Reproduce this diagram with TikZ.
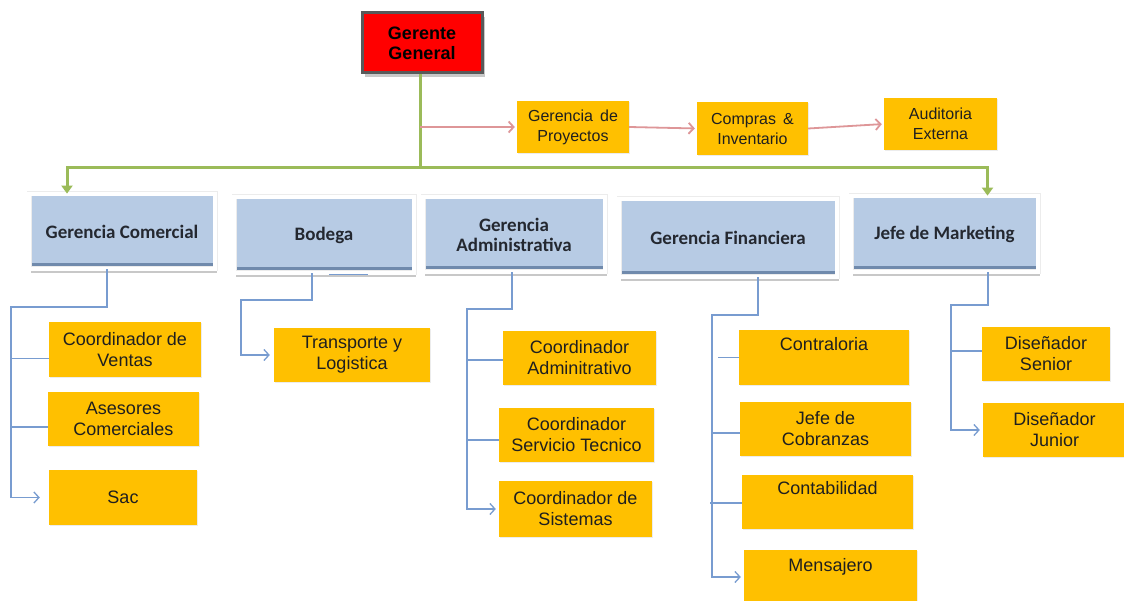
\documentclass[tikz,border=0pt]{standalone}
\usepackage{fontspec}
\setmainfont{Liberation Sans}
\newfontfamily\hdrfont{Carlito}
\usetikzlibrary{arrows.meta,shadows}

\definecolor{boxorange}{RGB}{255,192,0}
\definecolor{hdrfill}{RGB}{183,203,228}
\definecolor{hdredge}{RGB}{112,138,172}
\definecolor{hdrtext}{RGB}{36,40,48}
\definecolor{linkblue}{RGB}{120,156,208}
\definecolor{linkgreen}{RGB}{155,187,89}
\definecolor{linkred}{RGB}{222,150,152}
\definecolor{ceoborder}{RGB}{89,89,89}
\definecolor{shadowgray}{RGB}{200,200,200}
\definecolor{haze}{RGB}{236,236,236}

\begin{document}
\begin{tikzpicture}[x=1pt,y=-1pt,
  ceo/.style={fill=red, draw=ceoborder, line width=3pt,
    drop shadow={shadow xshift=3pt, shadow yshift=-4pt, fill=shadowgray, opacity=1},
    font=\bfseries\fontsize{18}{20}\selectfont, align=center, inner sep=0pt},
  hdr/.style={fill=hdrfill, draw=haze, line width=0.8pt, double=white, double distance=3.4pt,
    drop shadow={shadow xshift=1.5pt, shadow yshift=-4pt, fill=shadowgray, opacity=1},
    path picture={\fill[hdredge] (path picture bounding box.south west)
      rectangle ([yshift=6pt]path picture bounding box.south east);},
    text=hdrtext, font=\hdrfont\bfseries\fontsize{19}{20}\selectfont,
    align=center, inner sep=0pt},
  obox/.style={fill=boxorange,
    drop shadow={shadow xshift=1pt, shadow yshift=-1pt, fill=haze, opacity=1},
    text=black!88, font=\fontsize{18}{21}\selectfont,
    align=center, inner sep=0pt},
  tbox/.style={obox, font=\fontsize{16}{20}\selectfont},
  bl/.style={draw=linkblue, line width=1.3pt},
  blarrow/.style={bl, -{Straight Barb[length=5pt,width=11pt,line width=1.3pt]}},
  gr/.style={draw=linkgreen, line width=3pt},
  grarrow/.style={gr, -{Triangle[length=8pt,width=11pt]}},
  rd/.style={draw=linkred, line width=1.8pt,
    -{Straight Barb[length=5pt,width=11pt,line width=1.8pt]}, shorten >=2pt}
]
\useasboundingbox (0,0) rectangle (1124,601);
\fill[white] (0,0) rectangle (1124,601);

% top of the chart
\node[ceo, minimum width=120, minimum height=60] (gg) at (422,43) {Gerente\\General};

\node[tbox, minimum width=112, minimum height=52] (gp) at (573,127) {Gerencia\, de\\Proyectos};
\node[tbox, minimum width=111, minimum height=53] (ci) at (752.5,128.5) {Compras\, \&\\Inventario};
\node[tbox, minimum width=113, minimum height=52] (ae) at (940.5,124) {Auditoria\\Externa};

% department headers
\node[hdr, minimum width=186, minimum height=75] (gc)  at (122,231.5) {Gerencia Comercial};
\node[hdr, minimum width=180, minimum height=76] (bod) at (324,235) {Bodega};
\node[hdr, minimum width=182, minimum height=75] (ga)  at (514,234.5) {Gerencia\\Administrativa};
\node[hdr, minimum width=218, minimum height=78] (gf)  at (728,238) {Gerencia Financiera};
\node[hdr, minimum width=187, minimum height=76] (jm)  at (944.5,234) {Jefe de Marketing};

% staff units
\node[obox, minimum width=152, minimum height=55] (cv)  at (125,349.5) {Coordinador de\\Ventas};
\node[obox, minimum width=151, minimum height=54] (ac)  at (123.5,419) {Asesores\\Comerciales};
\node[obox, minimum width=148, minimum height=55] (sac) at (123,497.5) {Sac};

\node[obox, minimum width=156, minimum height=54] (tl)  at (352,355) {Transporte y\\Logistica};

\node[obox, minimum width=153, minimum height=54] (ca)  at (579.5,358) {Coordinador\\Adminitrativo};
\node[obox, minimum width=155, minimum height=54] (cst) at (576.5,435) {Coordinador\\Servicio Tecnico};
\node[obox, minimum width=153, minimum height=56] (cs)  at (575.5,509) {Coordinador de\\Sistemas};

\node[obox, minimum width=170, minimum height=55] (con)  at (824,357.5) {Contraloria\\\strut};
\node[obox, minimum width=171, minimum height=54] (jc)   at (825.5,429) {Jefe de\\Cobranzas};
\node[obox, minimum width=171, minimum height=54] (cont) at (827.5,502) {Contabilidad\\\strut};
\node[obox, minimum width=173, minimum height=60, text depth=30pt, text height=13pt] (men) at (830.5,580) {Mensajero};

\node[obox, minimum width=128, minimum height=54] (ds) at (1046,354) {Diseñador\\Senior};
\node[obox, minimum width=143, minimum height=54] (dj) at (1054.5,430) {Diseñador\\Junior};

% main trunk
\coordinate (bus) at (420,168);
\draw[gr] ([xshift=-2pt]gg.south) -- (bus);
\draw[grarrow] (bus) -| ([xshift=-55pt]gc.north);
\draw[grarrow] (bus) -| ([xshift=43pt]jm.north);

% staff line
\draw[rd] (bus |- gp.west) -- (gp.west);
\draw[rd] (gp.east) -- (ci.west);
\draw[rd] (ci.east) -- (ae.west);

% Gerencia Comercial
\draw[blarrow] ([xshift=-15pt]gc.south) |- (11,307) |- ([xshift=-9pt]sac.west);
\draw[bl] ([yshift=-9pt]cv.west) -- ++(-38,0);
\draw[bl] ([yshift=-8pt]ac.west) -- ++(-37,0);

% Bodega
\draw[blarrow] ([xshift=-12pt]bod.south) |- (241,300) |- ([xshift=-4pt]tl.west);
\draw[bl] ([xshift=5pt,yshift=-1pt]bod.south) -- ++(39,0);

% Gerencia Administrativa
\draw[blarrow] ([xshift=-2pt]ga.south) |- (467,309) |- ([xshift=-3pt]cs.west);
\draw[bl] ([yshift=-2pt]ca.west) -- ++(-36,0);
\draw[bl] ([yshift=-5pt]cst.west) -- ++(-32,0);

% Gerencia Financiera
\draw[blarrow] ([xshift=30pt]gf.south) |- (712,315) |- ([xshift=-3pt,yshift=3pt]men.west);
\draw[bl] (con.west) -- ++(-21,0);
\draw[bl] ([yshift=-4pt]jc.west) -- ++(-28,0);
\draw[bl] ([yshift=-1pt]cont.west) -- ++(-32,0);

% Jefe de Marketing
\draw[blarrow] ([xshift=43.5pt]jm.south) |- (951,305) |- ([xshift=-3pt]dj.west);
\draw[bl] ([yshift=3pt]ds.west) -- ++(-31,0);
\end{tikzpicture}
\end{document}
